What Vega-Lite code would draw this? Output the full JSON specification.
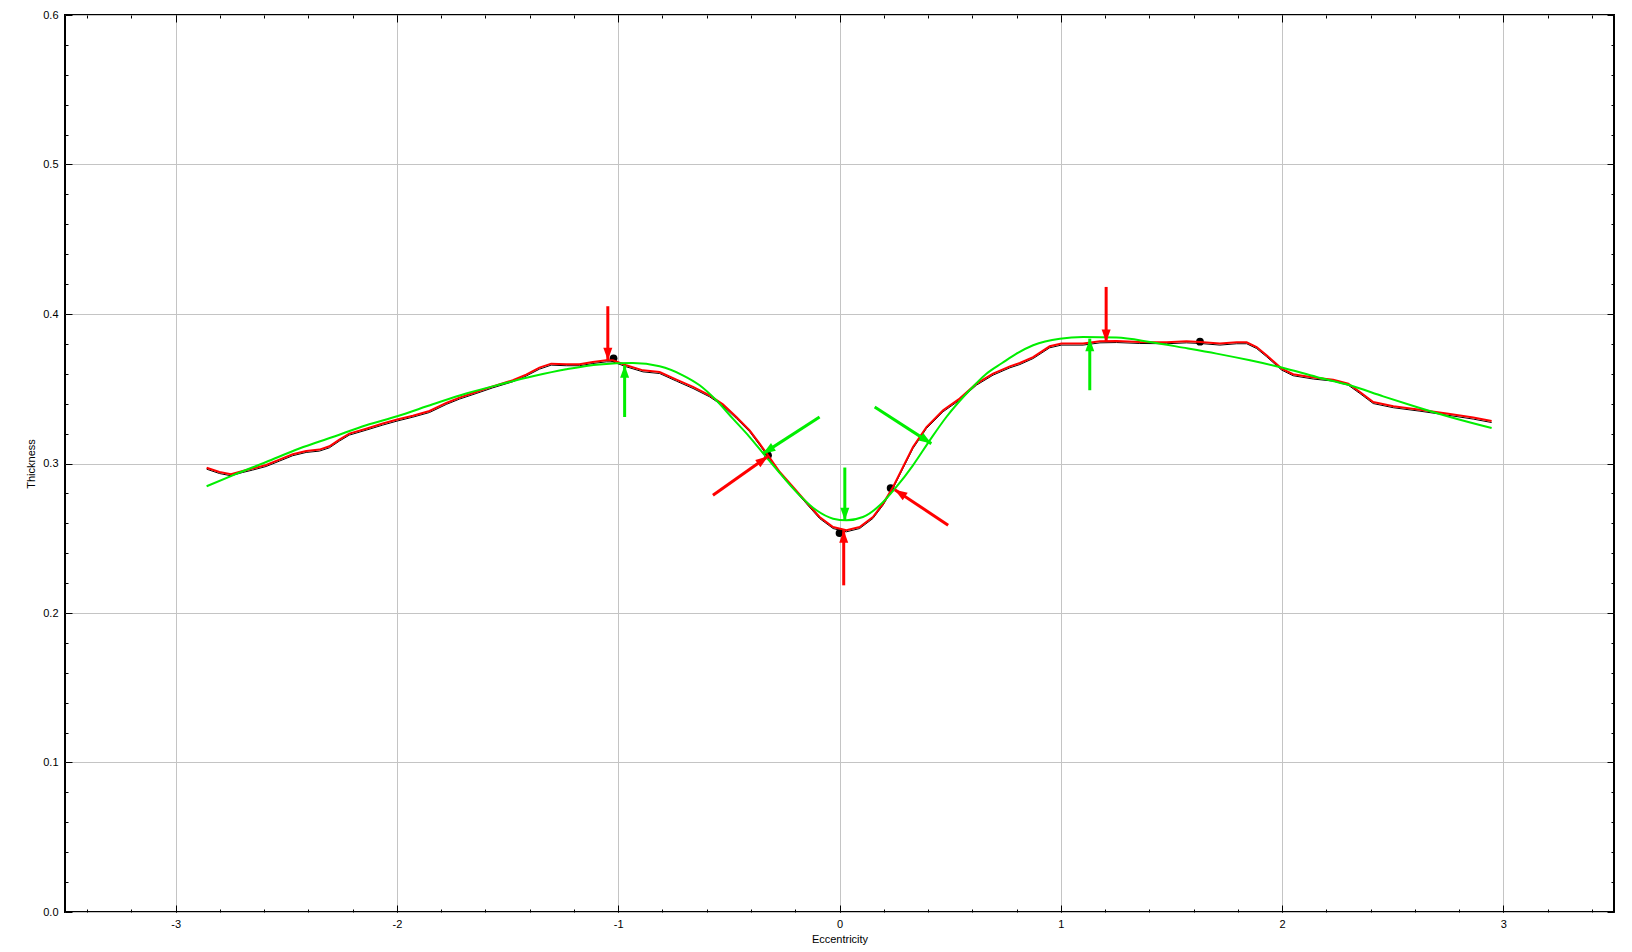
{
  "$schema": "https://vega.github.io/schema/vega-lite/v6.json",
  "width": 1549,
  "height": 897,
  "autosize": {"type": "none"},
  "padding": {"left": 65, "top": 15, "right": 18, "bottom": 40},
  "config": {
    "view": {"stroke": "#000000", "strokeWidth": 2},
    "axis": {
      "domain": false,
      "grid": false,
      "labelFont": "Liberation Sans",
      "titleFont": "Liberation Sans",
      "labelFontSize": 11,
      "titleFontSize": 11,
      "titleFontWeight": "normal",
      "labelColor": "#000000",
      "titleColor": "#000000",
      "tickColor": "#000000",
      "tickWidth": 1
    }
  },
  "datasets": {
    "measured": [
      {"x": -2.860, "y": 0.2972}, {"x": -2.802, "y": 0.2943}, {"x": -2.750, "y": 0.2928}, {"x": -2.697, "y": 0.2950},
      {"x": -2.652, "y": 0.2966}, {"x": -2.591, "y": 0.2990}, {"x": -2.531, "y": 0.3026}, {"x": -2.471, "y": 0.3062},
      {"x": -2.410, "y": 0.3084}, {"x": -2.350, "y": 0.3093}, {"x": -2.305, "y": 0.3115}, {"x": -2.260, "y": 0.3160},
      {"x": -2.215, "y": 0.3200}, {"x": -2.139, "y": 0.3233}, {"x": -2.064, "y": 0.3267}, {"x": -1.999, "y": 0.3294},
      {"x": -1.928, "y": 0.3320}, {"x": -1.853, "y": 0.3351}, {"x": -1.777, "y": 0.3405}, {"x": -1.717, "y": 0.3441},
      {"x": -1.642, "y": 0.3478}, {"x": -1.567, "y": 0.3516}, {"x": -1.476, "y": 0.3557}, {"x": -1.416, "y": 0.3595},
      {"x": -1.356, "y": 0.3641}, {"x": -1.303, "y": 0.3668}, {"x": -1.235, "y": 0.3664}, {"x": -1.175, "y": 0.3664},
      {"x": -1.115, "y": 0.3679}, {"x": -1.054, "y": 0.3690}, {"x": -1.024, "y": 0.3690}, {"x": -0.964, "y": 0.3657},
      {"x": -0.888, "y": 0.3623}, {"x": -0.813, "y": 0.3612}, {"x": -0.737, "y": 0.3561}, {"x": -0.662, "y": 0.3512},
      {"x": -0.587, "y": 0.3456}, {"x": -0.527, "y": 0.3396}, {"x": -0.466, "y": 0.3311}, {"x": -0.406, "y": 0.3222},
      {"x": -0.361, "y": 0.3133}, {"x": -0.323, "y": 0.3055}, {"x": -0.270, "y": 0.2943}, {"x": -0.210, "y": 0.2843},
      {"x": -0.150, "y": 0.2742}, {"x": -0.090, "y": 0.2642}, {"x": -0.029, "y": 0.2575}, {"x": 0.031, "y": 0.2553},
      {"x": 0.091, "y": 0.2575}, {"x": 0.151, "y": 0.2642}, {"x": 0.197, "y": 0.2732}, {"x": 0.242, "y": 0.2843},
      {"x": 0.287, "y": 0.2977}, {"x": 0.332, "y": 0.3110}, {"x": 0.393, "y": 0.3244}, {"x": 0.468, "y": 0.3356},
      {"x": 0.543, "y": 0.3434}, {"x": 0.619, "y": 0.3534}, {"x": 0.694, "y": 0.3601}, {"x": 0.770, "y": 0.3650},
      {"x": 0.815, "y": 0.3672}, {"x": 0.875, "y": 0.3712}, {"x": 0.950, "y": 0.3784}, {"x": 1.003, "y": 0.3802},
      {"x": 1.101, "y": 0.3802}, {"x": 1.177, "y": 0.3817}, {"x": 1.252, "y": 0.3819}, {"x": 1.357, "y": 0.3813},
      {"x": 1.478, "y": 0.3811}, {"x": 1.568, "y": 0.3817}, {"x": 1.629, "y": 0.3813}, {"x": 1.719, "y": 0.3802},
      {"x": 1.795, "y": 0.3811}, {"x": 1.840, "y": 0.3811}, {"x": 1.885, "y": 0.3779}, {"x": 1.930, "y": 0.3724},
      {"x": 1.998, "y": 0.3635}, {"x": 2.050, "y": 0.3597}, {"x": 2.141, "y": 0.3575}, {"x": 2.231, "y": 0.3561},
      {"x": 2.299, "y": 0.3534}, {"x": 2.352, "y": 0.3478}, {"x": 2.412, "y": 0.3411}, {"x": 2.503, "y": 0.3383},
      {"x": 2.623, "y": 0.3360}, {"x": 2.744, "y": 0.3334}, {"x": 2.864, "y": 0.3307}, {"x": 2.947, "y": 0.3284}
    ],
    "fit": [
      {"x": -2.860, "y": 0.2848}, {"x": -2.742, "y": 0.2921}, {"x": -2.591, "y": 0.3010}, {"x": -2.441, "y": 0.3100},
      {"x": -2.290, "y": 0.3177}, {"x": -2.139, "y": 0.3256}, {"x": -1.999, "y": 0.3316}, {"x": -1.838, "y": 0.3396},
      {"x": -1.687, "y": 0.3468}, {"x": -1.536, "y": 0.3528}, {"x": -1.386, "y": 0.3583}, {"x": -1.235, "y": 0.3630},
      {"x": -1.084, "y": 0.3663}, {"x": -0.934, "y": 0.3672}, {"x": -0.813, "y": 0.3650}, {"x": -0.708, "y": 0.3590},
      {"x": -0.632, "y": 0.3523}, {"x": -0.557, "y": 0.3423}, {"x": -0.482, "y": 0.3300}, {"x": -0.406, "y": 0.3177},
      {"x": -0.331, "y": 0.3043}, {"x": -0.255, "y": 0.2910}, {"x": -0.180, "y": 0.2787}, {"x": -0.104, "y": 0.2687},
      {"x": -0.029, "y": 0.2631}, {"x": 0.031, "y": 0.2620}, {"x": 0.106, "y": 0.2642}, {"x": 0.182, "y": 0.2720},
      {"x": 0.257, "y": 0.2843}, {"x": 0.332, "y": 0.2988}, {"x": 0.408, "y": 0.3155}, {"x": 0.483, "y": 0.3311},
      {"x": 0.574, "y": 0.3468}, {"x": 0.664, "y": 0.3601}, {"x": 0.735, "y": 0.3672}, {"x": 0.800, "y": 0.3735},
      {"x": 0.875, "y": 0.3791}, {"x": 0.996, "y": 0.3835}, {"x": 1.101, "y": 0.3846}, {"x": 1.252, "y": 0.3842},
      {"x": 1.403, "y": 0.3813}, {"x": 1.553, "y": 0.3775}, {"x": 1.704, "y": 0.3735}, {"x": 1.855, "y": 0.3690},
      {"x": 1.998, "y": 0.3642}, {"x": 2.156, "y": 0.3579}, {"x": 2.307, "y": 0.3523}, {"x": 2.457, "y": 0.3449},
      {"x": 2.608, "y": 0.3378}, {"x": 2.759, "y": 0.3311}, {"x": 2.947, "y": 0.3237}
    ],
    "marks": [
      {"x": -1.021, "y": 0.3704}, {"x": -0.323, "y": 0.3055}, {"x": 0.0, "y": 0.2535},
      {"x": 0.231, "y": 0.2836}, {"x": 1.629, "y": 0.3815}
    ],
    "arrows": [
      {"series": "measured", "tx": -1.047, "ty": 0.4052, "hx": -1.047, "hy": 0.369},
      {"series": "fit", "tx": -0.971, "ty": 0.3311, "hx": -0.971, "hy": 0.3657},
      {"series": "measured", "tx": -0.572, "ty": 0.2787, "hx": -0.323, "hy": 0.3048},
      {"series": "fit", "tx": -0.090, "ty": 0.3311, "hx": -0.346, "hy": 0.3066},
      {"series": "fit", "tx": 0.024, "ty": 0.2973, "hx": 0.024, "hy": 0.262},
      {"series": "measured", "tx": 0.019, "ty": 0.2185, "hx": 0.019, "hy": 0.2553},
      {"series": "fit", "tx": 0.159, "ty": 0.3378, "hx": 0.415, "hy": 0.3133},
      {"series": "measured", "tx": 0.491, "ty": 0.2587, "hx": 0.250, "hy": 0.2825},
      {"series": "measured", "tx": 1.205, "ty": 0.4181, "hx": 1.205, "hy": 0.3813},
      {"series": "fit", "tx": 1.131, "ty": 0.349, "hx": 1.131, "hy": 0.3835}
    ]
  },
  "layer": [
    {
      "data": {"name": "marks"},
      "mark": {"type": "point", "shape": "circle", "filled": true, "size": 60, "color": "#000000", "opacity": 1},
      "encoding": {
        "x": {"field": "x", "type": "quantitative", "scale": {"domain": [-3.5, 3.5], "nice": false, "zero": false},
          "axis": {"orient": "bottom", "values": [-3, -2, -1, 0, 1, 2, 3], "grid": true, "gridColor": "#c4c4c4", "gridWidth": 1,
            "ticks": false, "labelPadding": 6, "labelExpr": "toString(datum.value)", "title": "Eccentricity", "titlePadding": 4}},
        "y": {"field": "y", "type": "quantitative", "scale": {"domain": [0, 0.6], "nice": false, "zero": false},
          "axis": {"orient": "left", "values": [0, 0.1, 0.2, 0.3, 0.4, 0.5, 0.6], "format": ".1f", "grid": true, "gridColor": "#c4c4c4", "gridWidth": 1,
            "ticks": false, "labelPadding": 7, "title": "Thickness", "titlePadding": 6}}
      }
    },
    {
      "data": {"name": "measured"},
      "mark": {"type": "line", "color": "#000000", "strokeWidth": 1, "yOffset": 1.5},
      "encoding": {
        "x": {"field": "x", "type": "quantitative", "scale": {"domain": [-3.5, 3.5], "nice": false, "zero": false},
          "axis": {"orient": "bottom", "values": [-3, -2, -1, 0, 1, 2, 3], "labels": false, "tickSize": -7, "title": null}},
        "y": {"field": "y", "type": "quantitative", "scale": {"domain": [0, 0.6], "nice": false, "zero": false},
          "axis": {"orient": "left", "values": [0, 0.1, 0.2, 0.3, 0.4, 0.5, 0.6], "labels": false, "tickSize": -7, "title": null}}
      }
    },
    {
      "data": {"name": "measured"},
      "mark": {"type": "line", "color": "#ff0000", "strokeWidth": 2},
      "encoding": {
        "x": {"field": "x", "type": "quantitative", "scale": {"domain": [-3.5, 3.5], "nice": false, "zero": false},
          "axis": {"orient": "top", "values": [-3, -2, -1, 0, 1, 2, 3], "labels": false, "tickSize": -7, "title": null}},
        "y": {"field": "y", "type": "quantitative", "scale": {"domain": [0, 0.6], "nice": false, "zero": false},
          "axis": {"orient": "right", "values": [0, 0.1, 0.2, 0.3, 0.4, 0.5, 0.6], "labels": false, "tickSize": -7, "title": null}}
      }
    },
    {
      "data": {"name": "fit"},
      "mark": {"type": "line", "color": "#00ee00", "strokeWidth": 2, "interpolate": "monotone"},
      "encoding": {
        "x": {"field": "x", "type": "quantitative", "scale": {"domain": [-3.5, 3.5], "nice": false, "zero": false},
          "axis": {"orient": "bottom", "values": [-3.4, -3.2, -3, -2.8, -2.6, -2.4, -2.2, -2, -1.8, -1.6, -1.4, -1.2, -1, -0.8, -0.6, -0.4, -0.2, 0, 0.2, 0.4, 0.6, 0.8, 1, 1.2, 1.4, 1.6, 1.8, 2, 2.2, 2.4, 2.6, 2.8, 3, 3.2, 3.4], "labels": false, "tickSize": -3, "title": null}},
        "y": {"field": "y", "type": "quantitative", "scale": {"domain": [0, 0.6], "nice": false, "zero": false},
          "axis": {"orient": "left", "values": [0, 0.02, 0.04, 0.06, 0.08, 0.1, 0.12, 0.14, 0.16, 0.18, 0.2, 0.22, 0.24, 0.26, 0.28, 0.3, 0.32, 0.34, 0.36, 0.38, 0.4, 0.42, 0.44, 0.46, 0.48, 0.5, 0.52, 0.54, 0.56, 0.58, 0.6], "labels": false, "tickSize": -3, "title": null}}
      }
    },
    {
      "data": {"name": "arrows"},
      "mark": {"type": "rule", "strokeWidth": 3, "strokeCap": "butt"},
      "encoding": {
        "x": {"field": "tx", "type": "quantitative", "scale": {"domain": [-3.5, 3.5], "nice": false, "zero": false},
          "axis": {"orient": "top", "values": [-3.4, -3.2, -3, -2.8, -2.6, -2.4, -2.2, -2, -1.8, -1.6, -1.4, -1.2, -1, -0.8, -0.6, -0.4, -0.2, 0, 0.2, 0.4, 0.6, 0.8, 1, 1.2, 1.4, 1.6, 1.8, 2, 2.2, 2.4, 2.6, 2.8, 3, 3.2, 3.4], "labels": false, "tickSize": -3, "title": null}},
        "y": {"field": "ty", "type": "quantitative", "scale": {"domain": [0, 0.6], "nice": false, "zero": false},
          "axis": {"orient": "right", "values": [0, 0.02, 0.04, 0.06, 0.08, 0.1, 0.12, 0.14, 0.16, 0.18, 0.2, 0.22, 0.24, 0.26, 0.28, 0.3, 0.32, 0.34, 0.36, 0.38, 0.4, 0.42, 0.44, 0.46, 0.48, 0.5, 0.52, 0.54, 0.56, 0.58, 0.6], "labels": false, "tickSize": -3, "title": null}},
        "x2": {"field": "hx"},
        "y2": {"field": "hy"},
        "color": {"field": "series", "type": "nominal", "scale": {"domain": ["measured", "fit"], "range": ["#ff0000", "#00ee00"]}, "legend": null}
      }
    },
    {
      "data": {"name": "arrows"},
      "transform": [
        {"calculate": "atan2((datum.hx - datum.tx) * 221.29, (datum.hy - datum.ty) * 1495) * 180 / PI", "as": "ang"}
      ],
      "mark": {"type": "point", "shape": "M0,0L-0.45,1.25L0.45,1.25Z", "filled": true, "size": 400, "opacity": 1, "strokeWidth": 0},
      "encoding": {
        "x": {"field": "hx", "type": "quantitative", "scale": {"domain": [-3.5, 3.5], "nice": false, "zero": false}, "axis": null},
        "y": {"field": "hy", "type": "quantitative", "scale": {"domain": [0, 0.6], "nice": false, "zero": false}, "axis": null},
        "angle": {"field": "ang", "type": "quantitative", "scale": null},
        "color": {"field": "series", "type": "nominal", "scale": {"domain": ["measured", "fit"], "range": ["#ff0000", "#00ee00"]}, "legend": null}
      }
    }
  ],
  "resolve": {"axis": {"x": "independent", "y": "independent"}}
}
